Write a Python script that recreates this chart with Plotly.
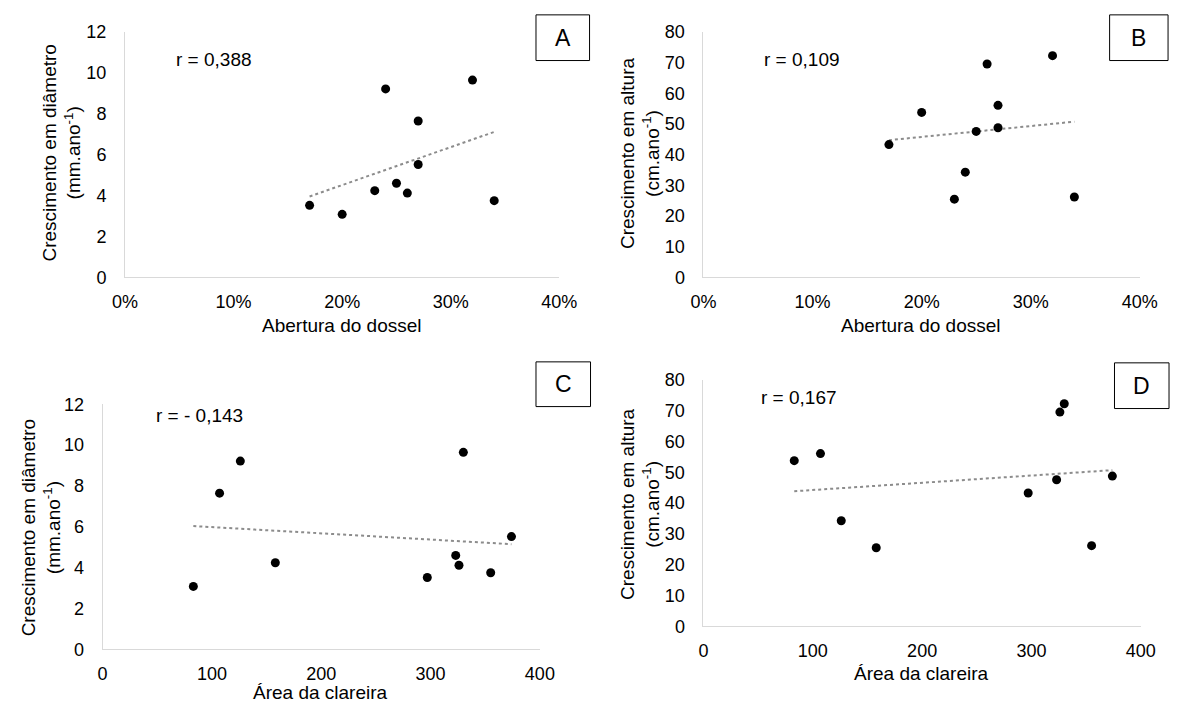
import numpy as np
import plotly.graph_objects as go

# ---- data ----
canopy_open = [0.17, 0.20, 0.23, 0.24, 0.25, 0.26, 0.27, 0.27, 0.32, 0.34]
gap_area = [297, 83, 158, 126, 323, 326, 107, 374, 330, 355]
diam_growth = [3.52, 3.08, 4.24, 9.22, 4.60, 4.12, 7.65, 5.52, 9.65, 3.75]
height_growth = [43.3, 53.8, 25.5, 34.3, 47.6, 69.6, 56.1, 48.8, 72.3, 26.2]

r_labels = ["r = 0,388", "r = 0,109", "r = - 0,143", "r = 0,167"]
panel_letters = ["A", "B", "C", "D"]
x_titles = ["Abertura do dossel", "Abertura do dossel", "Área da clareira", "Área da clareira"]
y_titles = ["Crescimento em diâmetro<br>(mm.ano<sup>-1</sup>)",
            "Crescimento em altura<br>(cm.ano<sup>-1</sup>)",
            "Crescimento em diâmetro<br>(mm.ano<sup>-1</sup>)",
            "Crescimento em altura<br>(cm.ano<sup>-1</sup>)"]

W, H = 1188, 715
FONT = "Arial, 'Liberation Sans', sans-serif"
TXT = "#000000"
TICK_SIZE = 18
LABEL_SIZE = 19

panels = [
    dict(x=canopy_open, y=diam_growth, px=(115, 561), py=(22.7, 275), xr=[0, 0.4], xd=0.1, xf=".0%", yr=[0, 12], yd=2,
         r_pos=(206, 51), box=(537, 5, 592, 52), xt=(338, 325), yt=(50, 147)),
    dict(x=canopy_open, y=height_growth, px=(709, 1157), py=(22.7, 275), xr=[0, 0.4], xd=0.1, xf=".0%", yr=[0, 80], yd=10,
         r_pos=(810, 51), box=(1126, 5, 1186, 52), xt=(932, 325), yt=(644, 147)),
    dict(x=gap_area, y=diam_growth, px=(92, 541), py=(405.7, 657.7), xr=[0, 400], xd=100, xf="", yr=[0, 12], yd=2,
         r_pos=(192, 417), box=(537, 362, 593, 408), xt=(316, 702), yt=(29, 532)),
    dict(x=gap_area, y=height_growth, px=(709, 1158), py=(380.7, 634), xr=[0, 400], xd=100, xf="", yr=[0, 80], yd=10,
         r_pos=(807, 399), box=(1131, 363, 1187, 410), xt=(933, 683), yt=(644, 508)),
]

fig = go.Figure()
annotations = []
shapes = []

for i, p in enumerate(panels):
    n = "" if i == 0 else str(i + 1)
    xa, ya = "x" + n, "y" + n
    xs = np.array(p["x"], dtype=float)
    ys = np.array(p["y"], dtype=float)
    m, b = np.polyfit(xs, ys, 1)
    lx = np.array([xs.min(), xs.max()])
    fig.add_trace(go.Scatter(x=lx, y=m * lx + b, mode="lines", xaxis=xa, yaxis=ya,
                             line=dict(color="#8c8c8c", width=2, dash="dot"), showlegend=False, hoverinfo="skip"))
    fig.add_trace(go.Scatter(x=xs, y=ys, mode="markers", xaxis=xa, yaxis=ya,
                             marker=dict(color="black", size=9), showlegend=False, hoverinfo="x+y"))

    xdom = [p["px"][0] / W, p["px"][1] / W]
    ydom = [1 - p["py"][1] / H, 1 - p["py"][0] / H]
    fig.update_layout(**{
        "xaxis" + n: dict(domain=xdom, range=p["xr"], dtick=p["xd"], tick0=0, tickformat=p["xf"],
                          showgrid=False, zeroline=False, showline=True, linecolor="#d9d9d9", linewidth=1,
                          ticks="outside", ticklen=8, tickcolor="rgba(0,0,0,0)",
                          tickfont=dict(family=FONT, size=TICK_SIZE, color=TXT), anchor=ya, fixedrange=True),
        "yaxis" + n: dict(domain=ydom, range=p["yr"], dtick=p["yd"], tick0=0,
                          showgrid=False, zeroline=False, showline=True, linecolor="#d9d9d9", linewidth=1,
                          ticks="outside", ticklen=14, tickcolor="rgba(0,0,0,0)",
                          tickfont=dict(family=FONT, size=TICK_SIZE, color=TXT), anchor=xa, fixedrange=True),
    })

    # r value
    annotations.append(dict(text=r_labels[i], x=p["r_pos"][0] / W, y=1 - p["r_pos"][1] / H, xref="paper", yref="paper",
                            xanchor="center", yanchor="middle", showarrow=False,
                            font=dict(family=FONT, size=LABEL_SIZE, color=TXT)))
    # panel letter box
    x0, y0, x1, y1 = p["box"]
    shapes.append(dict(type="rect", xref="paper", yref="paper", x0=x0 / W, x1=x1 / W, y0=1 - y1 / H, y1=1 - y0 / H,
                       line=dict(color="black", width=1), fillcolor="white"))
    annotations.append(dict(text=panel_letters[i], x=(x0 + x1) / 2 / W, y=1 - (y0 + y1) / 2 / H,
                            xref="paper", yref="paper", xanchor="center", yanchor="middle", showarrow=False,
                            font=dict(family=FONT, size=23, color=TXT)))
    # axis titles
    annotations.append(dict(text=x_titles[i], x=p["xt"][0] / W, y=1 - p["xt"][1] / H, xref="paper", yref="paper",
                            xanchor="center", yanchor="middle", showarrow=False,
                            font=dict(family=FONT, size=LABEL_SIZE, color=TXT)))
    annotations.append(dict(text=y_titles[i], x=p["yt"][0] / W, y=1 - p["yt"][1] / H, xref="paper", yref="paper",
                            xanchor="center", yanchor="middle", showarrow=False, textangle=-90,
                            font=dict(family=FONT, size=LABEL_SIZE, color=TXT)))

fig.update_layout(width=W, height=H, autosize=False, margin=dict(l=0, r=0, t=0, b=0),
                  paper_bgcolor="white", plot_bgcolor="white",
                  annotations=annotations, shapes=shapes, font=dict(family=FONT, color=TXT))

fig.write_html("out.html", config={"displayModeBar": False},
               post_script="document.body.style.margin='0';document.body.style.overflow='hidden';")
